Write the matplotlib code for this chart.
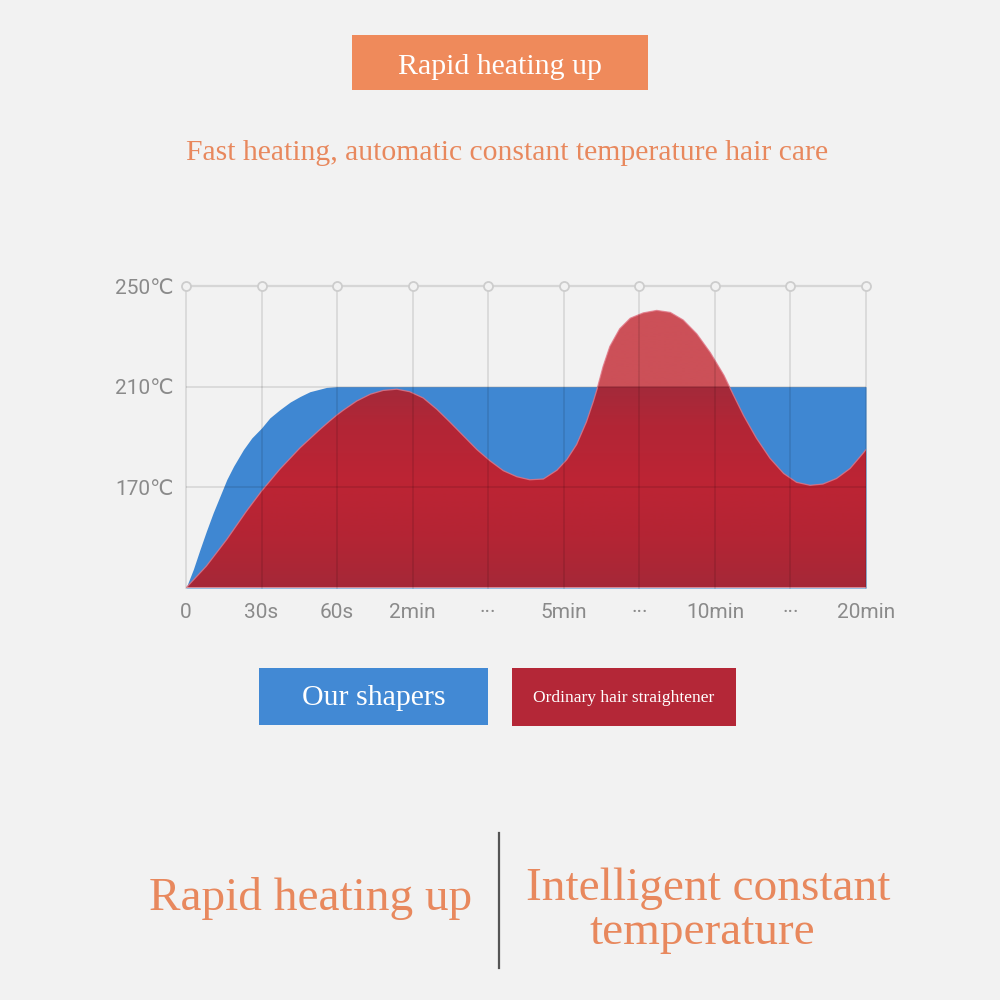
import matplotlib.pyplot as plt
import numpy as np
from matplotlib.patches import Rectangle, Polygon

# ---- data ----
x_labels = ['0', '30s', '60s', '2min', '···', '5min', '···', '10min', '···', '20min']
y_ticks = [170, 210, 250]
y_labels = ['170℃', '210℃', '250℃']

# our shapers: fast rise then constant 210
blue_x = [0, 0.097, 0.185, 0.27, 0.36, 0.45, 0.54, 0.63, 0.76, 0.87, 1.0, 1.11,
          1.24, 1.38, 1.51, 1.64, 1.77, 1.86, 2.0, 9.0]
blue_t = [130, 137.4, 145.3, 152.6, 159.9, 166.5, 173.1, 178.4, 185.0, 189.6, 193.6,
          197.6, 200.8, 203.9, 206.1, 208.0, 209.0, 209.7, 210, 210]

# ordinary straightener: swinging temperature
red_x = [0, 0.27, 0.54, 0.80, 1.0, 1.24, 1.51, 1.77, 1.9, 2.0, 2.08, 2.26, 2.44,
         2.61, 2.79, 2.96, 3.14, 3.32, 3.49, 3.67, 3.85, 4.02, 4.20, 4.38, 4.55,
         4.73, 4.91, 5.04, 5.17, 5.30, 5.39, 5.44, 5.52, 5.61, 5.74, 5.88, 6.05,
         6.23, 6.41, 6.58, 6.76, 6.94, 7.12, 7.24, 7.38, 7.55, 7.73, 7.91, 8.08,
         8.26, 8.43, 8.61, 8.79, 8.96, 9.0]
red_t = [130, 138.7, 149.3, 160.5, 168.5, 177.1, 185.7, 192.9, 196.3, 198.8, 200.6,
         204.3, 207.0, 208.5, 209.0, 208.0, 205.5, 201.0, 196.0, 190.5, 185.0, 180.6,
         176.6, 174.2, 173.0, 173.3, 176.8, 181.0, 187.0, 196.0, 204.0, 209.0, 218.0,
         226.0, 233.0, 237.2, 239.3, 240.3, 239.5, 236.5, 231.0, 223.5, 214.5, 207.0,
         198.5, 189.5, 181.5, 175.5, 172.0, 170.8, 171.3, 173.5, 177.5, 183.5, 185.0]

bg = '#f2f2f2'
orange = '#e8885d'
serif = ['Liberation Serif', 'DejaVu Serif']
sans = ['Roboto', 'DejaVu Sans']

fig = plt.figure(figsize=(10, 10), dpi=100, facecolor=bg)

# background layer in pixel coordinates for boxes and headline texts
bgax = fig.add_axes([0, 0, 1, 1])
bgax.set_xlim(0, 1000)
bgax.set_ylim(1000, 0)
bgax.axis('off')
bgax.set_facecolor(bg)

bgax.add_patch(Rectangle((352, 35), 296, 55, facecolor='#ef8a5b', edgecolor='none'))
bgax.text(500, 73.5, 'Rapid heating up', ha='center', va='baseline', color='white',
          fontsize=21.5, family=serif)
bgax.text(507, 160, 'Fast heating, automatic constant temperature hair care', ha='center',
          va='baseline', color=orange, fontsize=21.3, family=serif)

# legend boxes
bgax.add_patch(Rectangle((259, 668), 229, 57, facecolor='#4289d4', edgecolor='none'))
bgax.text(374, 705, 'Our shapers', ha='center', va='baseline', color='white',
          fontsize=21.5, family=serif)
bgax.add_patch(Rectangle((512, 668), 224, 58, facecolor='#b42737', edgecolor='none'))
bgax.text(624, 702.5, 'Ordinary hair straightener', ha='center', va='baseline',
          color='white', fontsize=12.5, family=serif)

# bottom slogan
bgax.text(311, 910, 'Rapid heating up', ha='center', va='baseline', color=orange,
          fontsize=34, family=serif)
bgax.plot([499, 499], [833, 968], color='#555555', lw=1.6)
bgax.text(708, 900, 'Intelligent constant', ha='center', va='baseline', color=orange,
          fontsize=34, family=serif)
bgax.text(702, 944, 'temperature', ha='center', va='baseline', color=orange,
          fontsize=34, family=serif)

# ---- chart ----
ax = fig.add_axes([0.186, 0.412, 0.68, 0.302])
ax.set_facecolor('none')
ax.set_xlim(0, 9)
ax.set_ylim(130, 250)
for s in ax.spines.values():
    s.set_visible(False)

ax.fill_between(blue_x, blue_t, 130, color='#3f87d2', lw=0, zorder=1)

# red area with a vertical shading, lighter where it rises above the blue plateau
ys = np.linspace(130, 250, 480)
stop_t = [130, 150, 172, 195, 210]
stop_c = np.array([[165, 40, 56], [180, 37, 52], [189, 36, 52], [178, 38, 54], [163, 42, 58]]) / 255
img = np.zeros((len(ys), 1, 3))
for k in range(3):
    img[:, 0, k] = np.interp(ys, stop_t, stop_c[:, k])
img[ys > 210, 0, :] = np.array([204, 80, 88]) / 255
im = ax.imshow(img, extent=[0, 9, 130, 250], origin='lower', aspect='auto',
               interpolation='bilinear', zorder=2)
verts = list(zip(red_x, red_t)) + [(9, 130), (0, 130)]
poly = Polygon(verts, closed=True, facecolor='none', edgecolor='none', transform=ax.transData)
ax.add_patch(poly)
im.set_clip_path(poly)
ax.plot(red_x, red_t, color='#e27888', lw=0.9, alpha=0.8, zorder=3, solid_joinstyle='round')
ax.axhline(130, color='#e3a0a8', lw=1.2, zorder=3)

# grid drawn over the areas
xs = np.arange(len(x_labels))
for xv in xs:
    ax.plot([xv, xv], [130, 250], color='black', alpha=0.1, lw=1.3, zorder=4, clip_on=False)
for yv in [170, 210]:
    ax.plot([0, 9], [yv, yv], color='black', alpha=0.1, lw=1.3, zorder=4)
ax.plot(xs, [250] * len(xs), color='#d6d6d6', lw=1.6, marker='o', ms=6.5,
        mfc=bg, mec='#cdcdcd', mew=1.3, zorder=5, clip_on=False)

ax.set_xticks(xs)
ax.set_xticklabels(x_labels, fontsize=15, color='#8a8a8a', family=sans)
ax.set_yticks(y_ticks)
ax.set_yticklabels(y_labels, fontsize=15, color='#8a8a8a', family=sans)
ax.tick_params(axis='x', length=0, pad=11)
ax.tick_params(axis='y', length=0, pad=9)

fig.savefig('out.png', dpi=100, facecolor=bg)
